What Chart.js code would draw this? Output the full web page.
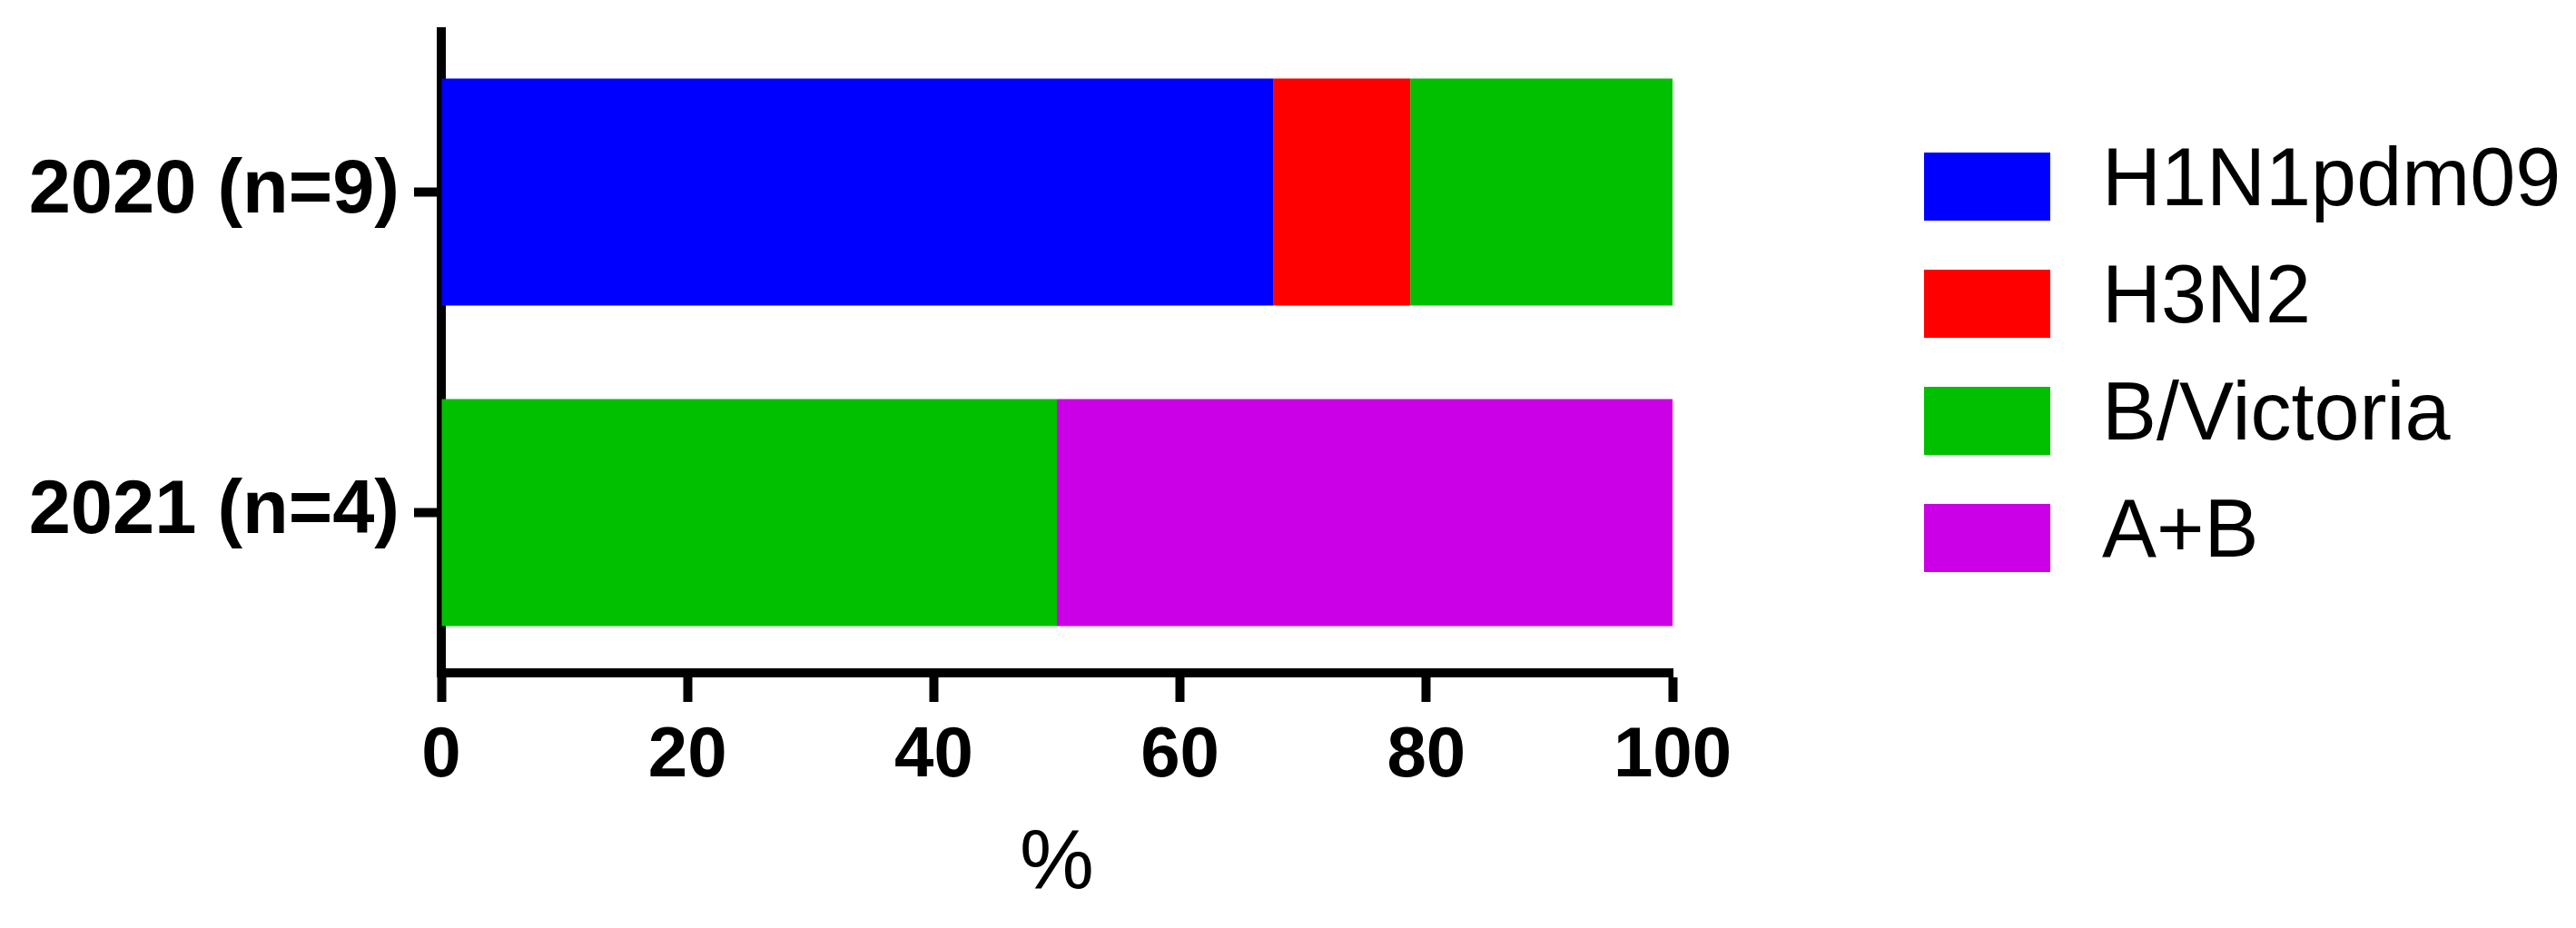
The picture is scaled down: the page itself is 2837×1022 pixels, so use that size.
<!DOCTYPE html>
<html>
<head>
<meta charset="utf-8">
<title>Influenza subtypes</title>
<script src="https://cdn.jsdelivr.net/npm/chart.js@4.4.1/dist/chart.umd.min.js"></script>
<style>
  html, body { margin: 0; padding: 0; background: #fff; }
  #chart { display: block; }
</style>
</head>
<body>
<canvas id="chart" width="2837" height="1022"></canvas>
<script>
// categories and series (percent of samples)
const years = ["2020 (n=9)", "2021 (n=4)"];
const seriesNames = ["H1N1pdm09", "H3N2", "B/Victoria", "A+B"];
const h1n1 = [67.6, 0];
const h3n2 = [11.1, 0];
const bVictoria = [21.3, 50];
const aPlusB = [0, 50];
const xTicks = [0, 20, 40, 60, 80, 100];

const colors = ["#0000ff", "#ff0000", "#00c000", "#cc00e6"];
const values = [h1n1, h3n2, bVictoria, aPlusB];

const FONT = '"Liberation Sans", Arial, sans-serif';

// legend drawn to the right of the plot, like the original figure
const sideLegend = {
  id: "sideLegend",
  afterDraw(chart) {
    const ctx = chart.ctx;
    ctx.save();
    ctx.font = "90px " + FONT;
    ctx.textBaseline = "middle";
    ctx.textAlign = "left";
    chart.data.datasets.forEach((ds, i) => {
      const top = 168 + i * 129;
      ctx.fillStyle = ds.backgroundColor;
      ctx.fillRect(2119, top, 139, 75);
      ctx.fillStyle = "#000";
      ctx.fillText(ds.label, 2315, top + 33);
    });
    ctx.restore();
  },
};

const ctx = document.getElementById("chart").getContext("2d");
new Chart(ctx, {
  type: "bar",
  data: {
    labels: years,
    datasets: seriesNames.map((name, i) => ({
      label: name,
      data: values[i],
      backgroundColor: colors[i],
      borderWidth: 0,
      categoryPercentage: 1,
      barPercentage: 0.708,
    })),
  },
  options: {
    indexAxis: "y",
    responsive: false,
    animation: false,
    devicePixelRatio: 1,
    layout: {
      padding: { left: 0, top: 35, right: 995, bottom: 0 },
    },
    plugins: {
      legend: { display: false },
      tooltip: { enabled: false },
    },
    scales: {
      x: {
        stacked: true,
        min: 0,
        max: 100,
        afterBuildTicks: (scale) => {
          scale.ticks = xTicks.map((v) => ({ value: v }));
        },
        afterFit: (scale) => {
          scale.height = 281;
        },
        grid: {
          drawOnChartArea: false,
          drawTicks: true,
          tickLength: 32,
          tickWidth: 10,
          tickColor: "#000",
        },
        border: { display: true, color: "#000", width: 10 },
        ticks: {
          color: "#000",
          padding: 14,
          maxRotation: 0,
          font: { family: FONT, size: 78, weight: "bold" },
        },
        title: {
          display: true,
          text: "%",
          color: "#000",
          padding: { top: 0, bottom: 14 },
          font: { family: FONT, size: 92 },
        },
      },
      y: {
        stacked: true,
        afterFit: (scale) => {
          scale.width = 486;
          // labels sit at the category centres, no extra room needed above/below
          scale.paddingTop = 0;
          scale.paddingBottom = 0;
        },
        grid: {
          offset: false,
          drawOnChartArea: false,
          drawTicks: true,
          tickLength: 30,
          tickWidth: 10,
          tickColor: "#000",
        },
        border: { display: true, color: "#000", width: 10 },
        ticks: {
          color: "#000",
          padding: 16,
          font: { family: FONT, size: 83, weight: "bold" },
        },
      },
    },
  },
  plugins: [sideLegend],
});
</script>
</body>
</html>
